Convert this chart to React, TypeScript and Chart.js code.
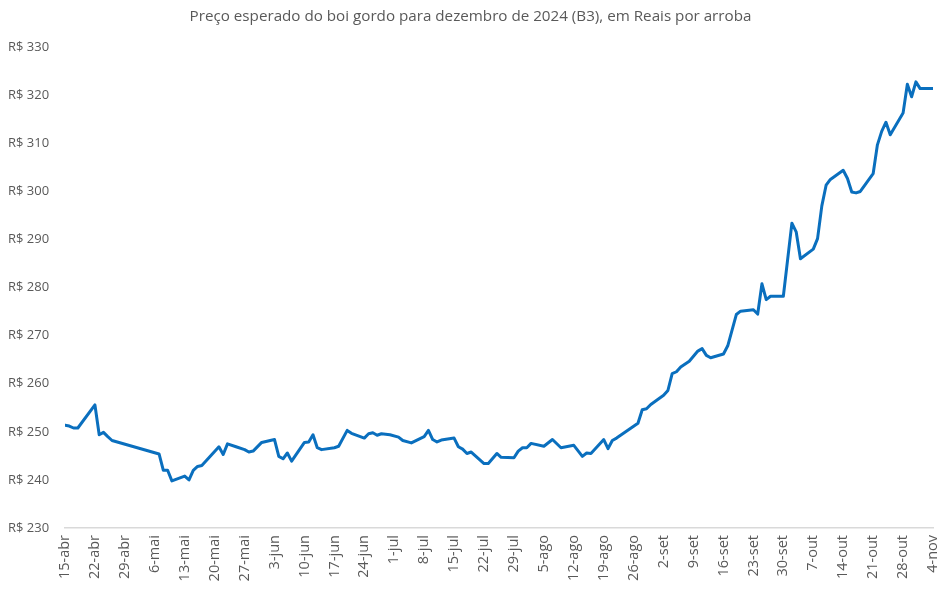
import React, { useEffect, useRef } from "react";
import { Chart, registerables } from "chart.js";

Chart.register(...registerables);

// Days elapsed since 15-abr-2024
const days: number[] = [
  0, 1, 2, 3, 7, 8, 9, 10, 11, 22, 23, 24, 25, 28, 29, 30, 31, 32, 36, 37, 38,
  40, 42, 43, 44, 46, 47, 49, 50, 51, 52, 53, 56, 57, 58, 59, 60, 63, 64, 66,
  67, 70, 71, 72, 73, 74, 76, 78, 79, 81, 84, 85, 86, 87, 88, 91, 92, 93, 94,
  95, 98, 99, 101, 102, 105, 106, 107, 108, 109, 112, 114, 116, 119, 121, 122,
  123, 126, 127, 128, 129, 134, 135, 136, 137, 140, 141, 142, 143, 144, 146,
  148, 149, 150, 151, 154, 155, 157, 158, 161, 162, 163, 164, 165, 168, 170,
  171, 172, 175, 176, 177, 178, 179, 182, 183, 184, 185, 186, 189, 190, 191,
  192, 193, 196, 197, 198, 199, 200, 203,
];

// Price (R$ per arroba)
const prices: number[] = [
  251.4, 251.2, 250.8, 250.8, 255.6, 249.4, 249.9, 249.0, 248.2, 245.4, 242.0,
  242.0, 239.8, 240.8, 240.0, 242.0, 242.8, 243.0, 246.9, 245.3, 247.5, 246.9,
  246.3, 245.8, 246.0, 247.8, 248.0, 248.4, 244.9, 244.4, 245.6, 243.9, 247.8,
  247.9, 249.4, 246.7, 246.3, 246.7, 247.0, 250.3, 249.7, 248.7, 249.6, 249.8,
  249.3, 249.6, 249.4, 248.9, 248.2, 247.7, 249.0, 250.3, 248.4, 247.9, 248.3,
  248.7, 246.9, 246.4, 245.5, 245.8, 243.4, 243.4, 245.5, 244.7, 244.6, 246.0,
  246.7, 246.7, 247.6, 247.0, 248.4, 246.7, 247.2, 244.9, 245.6, 245.5, 248.4,
  246.5, 248.2, 248.7, 251.8, 254.6, 254.8, 255.7, 257.6, 258.6, 262.1, 262.5,
  263.5, 264.7, 266.8, 267.3, 265.9, 265.4, 266.2, 267.9, 274.4, 275.1, 275.4,
  274.5, 280.8, 277.5, 278.2, 278.2, 293.4, 291.6, 286.0, 288.0, 290.2, 297.0,
  301.3, 302.5, 304.4, 302.7, 299.9, 299.7, 300.0, 303.7, 309.7, 312.5, 314.4,
  311.8, 316.3, 322.3, 319.7, 322.8, 321.4, 321.4,
];

const tickLabels: string[] = [
  "15-abr", "22-abr", "29-abr", "6-mai", "13-mai", "20-mai", "27-mai", "3-jun",
  "10-jun", "17-jun", "24-jun", "1-jul", "8-jul", "15-jul", "22-jul", "29-jul",
  "5-ago", "12-ago", "19-ago", "26-ago", "2-set", "9-set", "16-set", "23-set",
  "30-set", "7-out", "14-out", "21-out", "28-out", "4-nov",
];

const titleText =
  "Preço esperado do boi gordo para dezembro de 2024 (B3), em Reais por arroba";

export default function App() {
  const ref = useRef<HTMLCanvasElement | null>(null);

  useEffect(() => {
    document.body.style.margin = "0";
    const canvas = ref.current;
    if (!canvas) return;
    const textColor = "#595959";
    const chart = new Chart(canvas, {
      type: "line",
      data: {
        datasets: [
          {
            data: days.map((d, i) => ({ x: d, y: prices[i] })),
            borderColor: "#0A6FBE",
            borderWidth: 3,
            pointRadius: 0,
            tension: 0,
            borderJoinStyle: "round",
            borderCapStyle: "round",
            fill: false,
          },
        ],
      },
      options: {
        animation: false,
        responsive: false,
        devicePixelRatio: 1,
        layout: { padding: { left: 8, right: 15, top: 0, bottom: 6 } },
        plugins: {
          legend: { display: false },
          tooltip: { enabled: false },
          title: {
            display: true,
            text: titleText,
            color: textColor,
            font: { family: "'Open Sans'", size: 15.2, weight: "normal", lineHeight: 1.2 },
            padding: { top: 8, bottom: 21 },
          },
        },
        scales: {
          x: {
            type: "linear",
            min: 0,
            max: 203,
            afterFit: (s: any) => {
              s.height = 55;
              s.paddingLeft = 0;
              s.paddingRight = 0;
            },
            grid: { display: false, drawTicks: false },
            border: { display: true, color: "#D9D9D9", width: 1.5 },
            ticks: {
              stepSize: 7,
              autoSkip: false,
              maxRotation: 90,
              minRotation: 90,
              padding: 7,
              color: textColor,
              font: { family: "'Open Sans'", size: 14.5 },
              callback: (v: any) => {
                const idx = Math.round(Number(v) / 7);
                return tickLabels[idx] ?? "";
              },
            },
          },
          y: {
            min: 230,
            max: 330,
            afterFit: (s: any) => {
              s.width = 57;
            },
            grid: { display: false, drawTicks: false },
            border: { display: false },
            ticks: {
              stepSize: 10,
              crossAlign: "far",
              color: textColor,
              font: { family: "'Open Sans'", size: 13 },
              callback: (v: any) => `R$ ${v}`,
            },
          },
        },
      },
    });
    return () => chart.destroy();
  }, []);

  return (
    <div style={{ width: 948, height: 589 }}>
      <canvas ref={ref} width={948} height={589} style={{ display: "block" }} />
    </div>
  );
}
